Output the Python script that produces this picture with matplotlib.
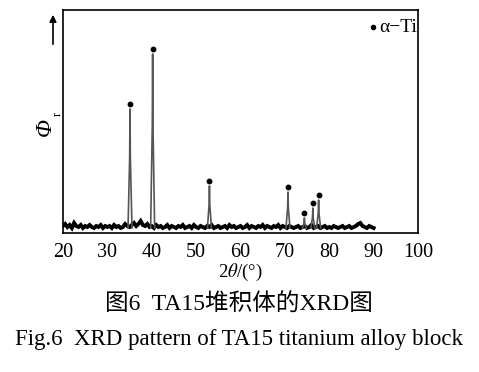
import numpy as np
import matplotlib.pyplot as plt

plt.rcParams['font.family'] = ['Liberation Serif', 'Noto Sans CJK SC']
plt.rcParams['mathtext.fontset'] = 'stix'

# alpha-Ti peaks: 2theta (deg) and relative height (arbitrary units)
peak_pos = [35.1, 40.2, 53.0, 70.7, 74.4, 76.3, 77.6]
peak_height = [123, 178, 46, 40, 14, 24, 32]

# background trace, 0.5 deg steps from 20 to 90
bg_start, bg_step = 20.0, 0.5
bg_vals = [6, 8, 5, 7, 4, 9, 6, 5, 7, 4, 6, 5, 7, 5, 4, 6, 5, 7, 4, 6,
           5, 6, 4, 7, 5, 6, 4, 5, 8, 6, 5, 7, 9, 6, 8, 11, 7, 6, 8, 5,
           6, 4, 7, 5, 6, 4, 5, 7, 4, 6, 5, 4, 6, 5, 7, 4, 5, 6, 4, 7,
           5, 4, 6, 5, 4, 6, 5, 7, 4, 5, 6, 4, 5, 6, 4, 7, 5, 6, 4, 5,
           6, 4, 5, 7, 4, 6, 5, 4, 6, 5, 7, 4, 6, 5, 4, 6, 5, 7, 4, 6,
           5, 4, 6, 5, 4, 5, 6, 4, 5, 6, 4, 5, 7, 4, 5, 6, 4, 5, 6, 4,
           5, 4, 6, 5, 4, 5, 6, 4, 5, 6, 4, 5, 6, 8, 9, 6, 5, 4, 6, 5, 4]

xticks = [20, 30, 40, 50, 60, 70, 80, 90, 100]

W, H = 479, 372
fig = plt.figure(figsize=(W / 100, H / 100), dpi=100)
ax = fig.add_axes([63 / W, 1 - 233 / H, (418 - 63) / W, (233 - 10) / H])

bg_x = [bg_start + i * bg_step for i in range(len(bg_vals))]
ax.plot(bg_x, bg_vals, color='black', lw=2.8, solid_joinstyle='miter')

# peaks drawn as narrow triangles on top of the background
for p, h in zip(peak_pos, peak_height):
    w = 0.45
    ax.plot([p - w, p - 0.08, p, p + 0.08, p + w], [4, h * 0.6, h, h * 0.6, 4],
            color='#555555', lw=1.2)
    ax.plot(p, h + 5, 'o', color='black', ms=3.2)

ax.set_xlim(20, 100)
ax.set_ylim(-1, 222)
ax.set_yticks([])
ax.set_xticks(xticks)
ax.tick_params(axis='x', length=0, pad=7, labelsize=14.5)
for s in ax.spines.values():
    s.set_linewidth(1.2)

# legend mark
ax.plot(89.9, 205, 'o', color='black', ms=3)
ax.text(91.2, 205, 'α−Ti', fontsize=14, va='center', ha='left')

# y label with arrow
fig.text(45 / W, 1 - 127 / H, 'Φ', fontsize=17, style='italic',
         rotation=90, ha='center', va='center')
fig.text(58 / W, 1 - 114 / H, 'r', fontsize=9,
         rotation=90, ha='center', va='center')
fig.patches.append(plt.matplotlib.patches.FancyArrowPatch(
    (53 / W, 1 - 47 / H), (53 / W, 1 - 12 / H), transform=fig.transFigure,
    arrowstyle='-|>', mutation_scale=10, lw=1.2, color='black'))

fig.text(0.5 * (63 + 418) / W, 1 - 272 / H, r'2$\mathit{\theta}$/(°)', fontsize=13.5,
         ha='center', va='center')
fig.text(239 / W, 1 - 305 / H, '图6  TA15堆积体的XRD图', fontsize=17,
         ha='center', va='center')
fig.text(239 / W, 1 - 340 / H, 'Fig.6  XRD pattern of TA15 titanium alloy block',
         fontsize=16.5, ha='center', va='center')

fig.savefig('out.png', dpi=100)
